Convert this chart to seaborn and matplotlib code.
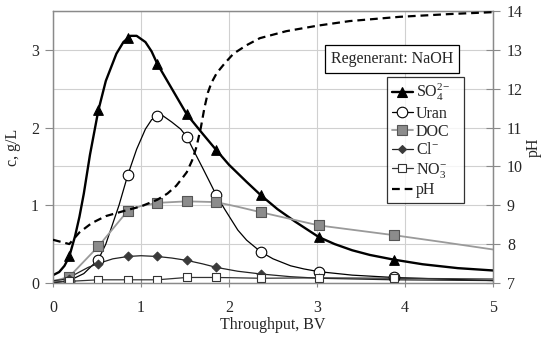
import numpy as np
import pandas as pd
import matplotlib
matplotlib.use("Agg")
import matplotlib.pyplot as plt
from matplotlib.lines import Line2D
import seaborn as sns

# sampling points (BV) shared by all measured series
bv = [0.185, 0.515, 0.85, 1.185, 1.52, 1.855, 2.36, 3.02, 3.87]

so4 = [0.34, 2.22, 3.15, 2.82, 2.17, 1.71, 1.13, 0.59, 0.30]
uran = [0.02, 0.30, 1.39, 2.15, 1.88, 1.13, 0.40, 0.145, 0.07]
doc = [0.08, 0.47, 0.93, 1.03, 1.05, 1.04, 0.91, 0.74, 0.615]
cl = [0.05, 0.24, 0.34, 0.34, 0.29, 0.20, 0.115, 0.06, 0.04]
no3 = [0.02, 0.04, 0.04, 0.04, 0.07, 0.07, 0.06, 0.065, 0.06]

# fitted curves
so4_fit_x = [0, 0.07, 0.13, 0.185, 0.25, 0.3, 0.35, 0.42, 0.515, 0.6, 0.72, 0.8, 0.88, 0.95,
             1.05, 1.12, 1.185, 1.35, 1.52, 1.7, 1.855, 2.0, 2.2, 2.36, 2.55, 2.75, 3.02, 3.2,
             3.4, 3.6, 3.87, 4.2, 4.6, 5.0]
so4_fit_y = [0.10, 0.14, 0.22, 0.34, 0.60, 0.85, 1.15, 1.65, 2.22, 2.60, 2.95, 3.10, 3.18, 3.18,
             3.10, 2.98, 2.82, 2.50, 2.17, 1.92, 1.71, 1.52, 1.30, 1.13, 0.95, 0.79, 0.59, 0.50,
             0.42, 0.36, 0.30, 0.24, 0.19, 0.16]

uran_fit_x = [0, 0.185, 0.35, 0.515, 0.6, 0.75, 0.85, 0.95, 1.05, 1.12, 1.185, 1.25, 1.35, 1.45,
              1.52, 1.6, 1.7, 1.78, 1.855, 1.95, 2.1, 2.2, 2.36, 2.5, 2.7, 2.85, 3.02, 3.4, 3.87,
              4.4, 5.0]
uran_fit_y = [0.0, 0.03, 0.12, 0.30, 0.50, 1.00, 1.39, 1.72, 1.98, 2.10, 2.15, 2.15, 2.07, 1.98,
              1.88, 1.70, 1.48, 1.30, 1.13, 0.95, 0.68, 0.55, 0.40, 0.31, 0.22, 0.18, 0.145, 0.10,
              0.07, 0.05, 0.03]

doc_fit_x = [0.0, 0.185, 0.515, 0.85, 1.0, 1.185, 1.52, 1.855, 2.1, 2.36, 3.02, 3.87, 4.4, 5.0]
doc_fit_y = [0.02, 0.08, 0.47, 0.93, 0.99, 1.03, 1.05, 1.04, 0.98, 0.91, 0.74, 0.615, 0.53, 0.43]

cl_fit_x = [0, 0.1, 0.185, 0.3, 0.4, 0.515, 0.68, 0.85, 1.0, 1.185, 1.35, 1.52, 1.7, 1.855, 2.1,
            2.36, 2.7, 3.02, 3.87, 5.0]
cl_fit_y = [0.03, 0.04, 0.07, 0.14, 0.20, 0.25, 0.31, 0.34, 0.35, 0.34, 0.32, 0.29, 0.245, 0.20,
            0.15, 0.115, 0.08, 0.06, 0.04, 0.03]

no3_fit_x = [0, 0.185, 0.515, 0.85, 1.185, 1.52, 1.855, 2.36, 3.02, 3.87, 5.0]
no3_fit_y = [0.01, 0.02, 0.04, 0.04, 0.04, 0.07, 0.07, 0.06, 0.065, 0.06, 0.05]

ph_x = [0, 0.185, 0.3, 0.44, 0.6, 0.85, 1.0, 1.185, 1.3, 1.4, 1.47, 1.52, 1.58, 1.63, 1.68,
        1.72, 1.76, 1.8, 1.86, 1.95, 2.05, 2.2, 2.35, 2.65, 3.0, 3.37, 3.94, 4.5, 5.0]
ph_y = [8.11, 8.0, 8.3, 8.54, 8.72, 8.88, 8.97, 9.14, 9.3, 9.5, 9.7, 9.85, 10.15, 10.5, 11.0,
        11.5, 11.9, 12.15, 12.4, 12.65, 12.9, 13.12, 13.3, 13.48, 13.62, 13.74, 13.85, 13.92,
        13.97]

sns.set_theme(style="white")
plt.rcParams['font.family'] = ['Liberation Serif', 'DejaVu Serif']
plt.rcParams['mathtext.fontset'] = 'custom'
plt.rcParams['mathtext.rm'] = 'Liberation Serif'
plt.rcParams['mathtext.it'] = 'Liberation Serif:italic'

fs = 11.5

fig = plt.figure(figsize=(5.5, 3.38), dpi=100)
ax = fig.add_axes([0.0964, 0.163, 0.8, 0.8045])
ax2 = ax.twinx()

spine_c = '#8a8a8a'
grid_c = '#d0d0d0'

series = [
    (so4_fit_x, so4_fit_y, so4, 'black', 1.7, '^', 'black', 'black', 48),
    (uran_fit_x, uran_fit_y, uran, 'black', 0.9, 'o', 'white', 'black', 58),
    (doc_fit_x, doc_fit_y, doc, '#9a9a9a', 1.3, 's', '#8c8c8c', '#555555', 46),
    (cl_fit_x, cl_fit_y, cl, '#222222', 0.9, 'D', '#3a3a3a', '#3a3a3a', 20),
    (no3_fit_x, no3_fit_y, no3, '#333333', 0.9, 's', 'white', '#333333', 40),
]
for i, (fx, fy, vals, lc, lw, mk, fc, ec, s) in enumerate(series):
    sns.lineplot(x=fx, y=fy, ax=ax, color=lc, linewidth=lw, estimator=None, sort=False,
                 zorder=3 + i)
    sns.scatterplot(x=bv, y=vals, ax=ax, marker=mk, s=s, color=fc, edgecolor=ec,
                    linewidth=0.8, zorder=10 + i)

sns.lineplot(x=ph_x, y=ph_y, ax=ax2, color='black', linewidth=1.6, linestyle=(0, (3.5, 2.2)),
             estimator=None, sort=False, zorder=5)

ax.set_xlim(0, 5)
ax.set_ylim(0, 3.5)
ax2.set_ylim(7, 14)
ax.set_xticks(range(0, 6))
ax.set_yticks([0, 1, 2, 3])
ax.set_yticks(np.arange(0, 3.6, 0.5), minor=True)
ax2.set_yticks(range(7, 15))
ax.grid(True, which='both', color=grid_c, linewidth=0.8)
ax.tick_params(axis='y', which='minor', length=0)
ax.tick_params(axis='y', which='major', direction='out', length=6, width=0.8, color=spine_c,
               labelsize=fs, pad=4, left=True)
ax.tick_params(axis='x', direction='inout', length=6, width=0.8, color=spine_c, labelsize=fs,
               pad=9, bottom=True)
ax2.tick_params(axis='y', direction='inout', length=10, width=0.8, color=spine_c, labelsize=fs,
                pad=5, right=True)
for a in (ax, ax2):
    for sp in a.spines.values():
        sp.set_color(spine_c)
        sp.set_linewidth(0.9)

ax.set_xlabel('Throughput, BV', fontsize=fs, labelpad=1)
ax.set_ylabel('c, g/L', fontsize=fs, labelpad=7)
ax2.set_ylabel('pH', fontsize=fs, labelpad=2)

ax2.text(0.77, 0.822, 'Regenerant: NaOH', transform=ax2.transAxes, fontsize=fs,
         ha='center', va='center', zorder=30,
         bbox=dict(boxstyle='square,pad=0.38', facecolor='white', edgecolor='black', linewidth=0.9))

labels = ['SO$_4^{2\\mathrm{-}}$', 'Uran', 'DOC', 'Cl$^{\\mathrm{-}}$', 'NO$_3^{\\mathrm{-}}$', 'pH']
handles = [Line2D([], [], color=lc, linewidth=lw, marker=mk, markersize=np.sqrt(s),
                  markerfacecolor=fc, markeredgecolor=ec, markeredgewidth=0.8)
           for (_, _, _, lc, lw, mk, fc, ec, s) in series]
handles.append(Line2D([], [], color='black', linewidth=1.6, linestyle=(0, (3.5, 2.2))))
leg = ax2.legend(handles, labels, loc='upper left', bbox_to_anchor=(0.759, 0.294, 0.175, 0.463),
                 mode='expand', borderaxespad=0, fontsize=fs, frameon=True, fancybox=False,
                 handlelength=1.3, handletextpad=0.2, labelspacing=0.15, borderpad=0.3)
leg.get_frame().set_edgecolor('black')
leg.get_frame().set_linewidth(0.9)
leg.set_zorder(30)

fig.savefig('out.png', dpi=100)
